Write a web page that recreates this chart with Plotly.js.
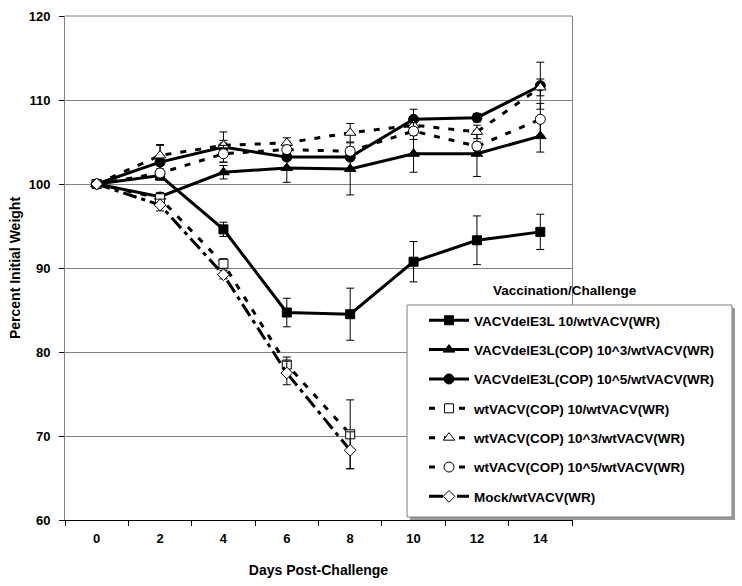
<!DOCTYPE html>
<html>
<head>
<meta charset="utf-8">
<script src="https://cdn.plot.ly/plotly-3.0.1.min.js"></script>
<style>html,body{margin:0;padding:0;background:#fff;}#chart{width:742px;height:586px;}</style>
</head>
<body>
<div id="chart"></div>
<script>
// ---- data ----
const days = [0, 2, 4, 6, 8, 10, 12, 14];
const dayLabels = ["0", "2", "4", "6", "8", "10", "12", "14"];
const mockDays = [0, 2, 4, 6, 8];

const seriesNames = [
  "VACVdelE3L 10/wtVACV(WR)",
  "VACVdelE3L(COP) 10^3/wtVACV(WR)",
  "VACVdelE3L(COP) 10^5/wtVACV(WR)",
  "wtVACV(COP) 10/wtVACV(WR)",
  "wtVACV(COP) 10^3/wtVACV(WR)",
  "wtVACV(COP) 10^5/wtVACV(WR)",
  "Mock/wtVACV(WR)"
];

const delE3L_10      = [100, 101.0, 94.6, 84.7, 84.5, 90.75, 93.3, 94.3];
const delE3L_10_err  = [0, 0.5, 0.85, 1.7, 3.1, 2.4, 2.9, 2.1];
const delE3L_1e3     = [100, 98.5, 101.4, 101.9, 101.8, 103.6, 103.6, 105.7];
const delE3L_1e3_err = [0, 0.5, 0.8, 1.7, 3.1, 2.2, 2.7, 1.9];
const delE3L_1e5     = [100, 102.6, 104.4, 103.2, 103.2, 107.7, 107.9, 111.7];
const delE3L_1e5_err = [0, 2.1, 1.8, 0.4, 0.4, 1.2, 0.5, 2.8];
const wt_10          = [100, 98.3, 90.5, 78.5, 70.2];
const wt_10_err      = [0, 0.6, 0.6, 0.9, 4.1];
const wt_1e3         = [100, 103.4, 104.6, 104.9, 106.1, 107.0, 106.2, 111.5];
const wt_1e3_err     = [0, 1.2, 0.6, 0.6, 1.1, 1.0, 0.8, 1.0];
const wt_1e5         = [100, 101.3, 103.6, 104.1, 103.9, 106.3, 104.5, 107.7];
const wt_1e5_err     = [0, 0.5, 1.0, 0.5, 0.5, 1.0, 0.5, 1.9];
const mock           = [100, 97.5, 89.2, 77.5, 68.3];
const mock_err       = [0, 0.7, 0.5, 1.4, 2.2];

const yTicks = [60, 70, 80, 90, 100, 110, 120];
const xMinorTicks = [-1, 1, 3, 5, 7, 9, 11, 13, 15];

// ---- traces ----
const FONT = "Liberation Sans, Arial, sans-serif";
const errStyle = (arr) => ({type: "data", array: arr, visible: true, color: "#000", thickness: 1, width: 4});

function mk(name, x, y, err, symbol, fill, dash, size) {
  return {
    type: "scatter", mode: "lines+markers", name: name, x: x, y: y,
    error_y: errStyle(err),
    line: {color: "#000", width: 3, dash: dash},
    marker: {symbol: symbol, size: size, color: fill, line: {color: "#000", width: 1}},
    legendgroup: name
  };
}

const dashShort = "6px,9px";
const dashMock = "14px,5px,4px,5px";

const traces = [
  mk(seriesNames[0], days, delE3L_10, delE3L_10_err, "square", "#000", "solid", 9),
  mk(seriesNames[1], days, delE3L_1e3, delE3L_1e3_err, "triangle-up", "#000", "solid", 10),
  mk(seriesNames[2], days, delE3L_1e5, delE3L_1e5_err, "circle", "#000", "solid", 10),
  mk(seriesNames[3], mockDays, wt_10, wt_10_err, "square", "#fff", dashShort, 9),
  mk(seriesNames[4], days, wt_1e3, wt_1e3_err, "triangle-up", "#fff", dashShort, 10),
  mk(seriesNames[5], days, wt_1e5, wt_1e5_err, "circle", "#fff", dashShort, 10),
  mk(seriesNames[6], mockDays, mock, mock_err, "diamond", "#fff", dashMock, 9)
];

const layout = {
  width: 742, height: 586,
  margin: {l: 65, r: 170, t: 16, b: 66, pad: 0},
  paper_bgcolor: "#fff", plot_bgcolor: "#fff",
  font: {family: FONT, size: 13, color: "#000", weight: 700},
  showlegend: true,
  legend: {
    x: 0.7081, y: 0.4266, xanchor: "left", yanchor: "top",
    bgcolor: "rgba(0,0,0,0)", borderwidth: 0,
    font: {family: FONT, size: 13.5, color: "#000", weight: 700},
    tracegroupgap: 8.8, traceorder: "grouped",
    itemwidth: 40
  },
  xaxis: {
    range: [-1, 15], tickmode: "array", tickvals: days, ticktext: dayLabels,
    ticks: "", showgrid: false, zeroline: false,
    showline: true, linecolor: "#000", linewidth: 1,
    tickfont: {family: FONT, size: 13, weight: 700},
    ticklabelstandoff: 6,
    minor: {tickmode: "array", tickvals: xMinorTicks, ticks: "outside", ticklen: 5, tickcolor: "#000", tickwidth: 1, showgrid: false},
    title: {text: "Days Post-Challenge", font: {family: FONT, size: 14, weight: 700}, standoff: 20}
  },
  yaxis: {
    range: [60, 120], tickmode: "array", tickvals: yTicks,
    ticks: "outside", ticklen: 5, tickcolor: "#000",
    showgrid: true, gridcolor: "#808080", gridwidth: 1, zeroline: false,
    showline: true, linecolor: "#808080", linewidth: 1, mirror: true,
    tickfont: {family: FONT, size: 13, weight: 700},
    ticklabelstandoff: 6,
    title: {text: "Percent Initial Weight", font: {family: FONT, size: 14, weight: 700}, standoff: 4}
  },
  shapes: [
    {type: "rect", xref: "paper", yref: "paper", x0: 0.6805, x1: 1.3215, y0: 0.0, y1: 0.4206,
     fillcolor: "#9a9a9a", line: {width: 0}, layer: "above"},
    {type: "rect", xref: "paper", yref: "paper", x0: 0.6746, x1: 1.3156, y0: 0.00595, y1: 0.4266,
     fillcolor: "#fff", line: {color: "#808080", width: 1}, layer: "above"},
    {type: "line", xref: "paper", yref: "paper", x0: 0, x1: 1, y0: 1, y1: 1, line: {color: "#808080", width: 1}}
  ],
  annotations: [
    {text: "Vaccination/Challenge", xref: "paper", yref: "paper", x: 0.9862, y: 0.4563,
     xanchor: "center", yanchor: "middle", showarrow: false,
     font: {family: FONT, size: 13.5, weight: 700, color: "#000"}}
  ]
};

Plotly.newPlot("chart", traces, layout, {displayModeBar: false, staticPlot: true});
</script>
</body>
</html>
